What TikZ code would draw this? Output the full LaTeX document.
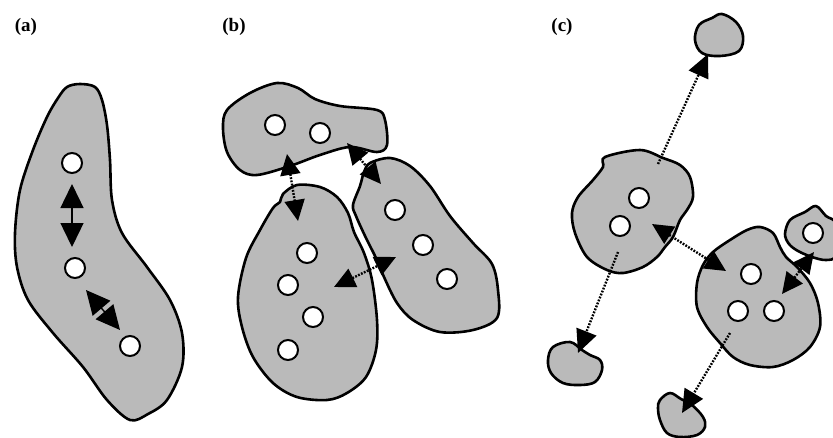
\documentclass[tikz,border=0pt]{standalone}
\usepackage{fontspec}
\setmainfont{Liberation Serif}
\usetikzlibrary{arrows.meta}
\tikzset{
  blob/.style={draw=black, fill=black!27, line width=2.6pt, line join=round},
  dot/.style={circle, draw=black, fill=white, line width=2pt, minimum size=20pt, inner sep=0pt},
  solidlink/.style={line width=1.4pt, {Triangle[length=24pt,width=23pt]}-{Triangle[length=24pt,width=23pt]}},
  dottedlink/.style={line width=2.4pt, dash pattern=on 1.8pt off 1.4pt},
  bothheads/.style={{Triangle[length=21pt,width=20pt]}-{Triangle[length=21pt,width=20pt]}},
  onehead/.style={-{Triangle[length=23pt,width=21pt]}},
  panellabel/.style={font=\bfseries\fontsize{19}{21}\selectfont, inner sep=0pt}
}
\begin{document}
\begin{tikzpicture}[x=1pt,y=-1pt]
\useasboundingbox (0,0) rectangle (833,437);
\fill[white] (0,0) rectangle (833,437);

% ---------- panel labels ----------
\node[panellabel] (la) at (26,27) {(a)};
\node[panellabel] (lb) at (234,27) {(b)};
\node[panellabel] (lc) at (562,27) {(c)};

% ---------- (a): one elongated cluster ----------
\draw[blob] plot[smooth cycle, tension=0.55] coordinates {
 (67,87) (80,84) (95,87) (102,100) (107,125) (110,160) (112,200) (122,233)
 (147,267) (170,300) (182,333) (182,367) (167,400) (148,414) (130,420)
 (107,400) (83,367) (53,333) (28,300) (17,267) (15,233) (20,190) (33,150)
 (47,117) (58,98)};
\node[dot] (a1) at (72,163) {};
\node[dot] (a2) at (75,268) {};
\node[dot] (a3) at (130,346) {};
\coordinate (a12t) at (72,184);
\coordinate (a12b) at (72,247);
\coordinate (a23t) at (86,290);
\coordinate (a23b) at (120,330);
\draw[solidlink] (a12t) -- (a12b);
\draw[solidlink] (a23t) -- (a23b);

% ---------- (b): three neighbouring clusters ----------
\draw[blob] plot[smooth cycle, tension=0.55] coordinates {
 (227,110) (250,93) (277,83) (298,88) (315,99) (340,106) (377,110) (385,120)
 (387,145) (377,152) (350,147) (320,155) (290,166) (257,175) (240,170)
 (227,152) (223,128)};
\node[dot] (b1) at (275,125) {};
\node[dot] (b2) at (320,133) {};

\draw[blob] plot[smooth cycle, tension=0.55] coordinates {
 (283,194) (297,185) (320,187) (337,197) (348,213) (354,232) (364,253)
 (372,280) (377,320) (376,350) (366,377) (347,393) (327,400) (297,397)
 (273,383) (253,357) (242,327) (238,297) (246,258) (260,230) (273,208)
 (280,202)};
\node[dot] (b3) at (307,253) {};
\node[dot] (b4) at (288,285) {};
\node[dot] (b5) at (313,317) {};
\node[dot] (b6) at (288,350) {};

\draw[blob] plot[smooth cycle, tension=0.55] coordinates {
 (370,163) (390,158) (410,166) (430,186) (450,216) (473,243) (492,264)
 (498,290) (497,318) (473,330) (440,332) (413,320) (397,303) (384,277)
 (376,258) (366,238) (356,216) (353,205) (360,186) (364,172)};
\node[dot] (b7) at (395,210) {};
\node[dot] (b8) at (423,245) {};
\node[dot] (b9) at (447,279) {};

\coordinate (bv1) at (287,154);
\coordinate (bv2) at (298,221);
\coordinate (bd1) at (347,143);
\coordinate (bd2) at (381,184);
\coordinate (bh1) at (334,287);
\coordinate (bh2) at (396,257);
\draw[dottedlink, bothheads] (bv1) -- (bv2);
\draw[dottedlink, bothheads] (bd1) -- (bd2);
\draw[dottedlink, bothheads] (bh1) -- (bh2);

% ---------- (c): clusters drifting apart ----------
% small cluster, top
\draw[blob] plot[smooth cycle, tension=0.6] coordinates {
 (722,14) (736,22) (743,36) (739,51) (720,56) (702,53) (695,40) (699,25) (712,18)};
% middle-left cluster
\draw[blob] plot[smooth cycle, tension=0.55] coordinates {
 (605,157) (640,150) (663,158) (680,165) (690,177) (693,197) (687,210)
 (680,220) (673,237) (665,247) (657,257) (643,267) (623,273) (607,270)
 (587,257) (575,233) (572,213) (578,197) (593,180) (603,167)};
\node[dot] (c1) at (639,198) {};
\node[dot] (c2) at (620,226) {};
% big cluster, right
\draw[blob] plot[smooth cycle, tension=0.55] coordinates {
 (697,283) (703,265) (713,252) (730,240) (747,230) (760,227) (773,233)
 (780,247) (786,257) (797,267) (810,283) (818,303) (820,327) (810,347)
 (793,360) (773,367) (750,365) (733,357) (720,343) (707,327) (697,307)};
\node[dot] (c3) at (751,274) {};
\node[dot] (c4) at (738,311) {};
\node[dot] (c5) at (774,311) {};
% small cluster, far right
\draw[blob] plot[smooth cycle, tension=0.55] coordinates {
 (785,234) (790,220) (805,212) (816,206) (826,216) (836,224) (836,255)
 (826,260) (812,257) (798,251) (789,244)};
\node[dot] (c6) at (813,233) {};
% small cluster, lower left
\draw[blob] plot[smooth cycle, tension=0.6] coordinates {
 (553,347) (570,342) (582,350) (590,355) (600,360) (602,370) (595,382)
 (580,385) (563,383) (551,373) (548,360)};
% small cluster, bottom
\draw[blob] plot[smooth cycle, tension=0.6] coordinates {
 (660,400) (670,393) (681,399) (692,405) (703,417) (705,427) (697,435)
 (680,437) (667,433) (660,420) (658,408)};

\coordinate (cs1) at (658,164);
\coordinate (ce1) at (708,54);
\coordinate (cs2) at (618,252);
\coordinate (ce2) at (578,353);
\coordinate (cs3) at (730,333);
\coordinate (ce3) at (682,413);
\coordinate (cm1) at (652,224);
\coordinate (cm2) at (726,271);
\coordinate (cr1) at (782,294);
\coordinate (cr2) at (814,252);
\draw[dottedlink, onehead] (cs1) -- (ce1);
\draw[dottedlink, onehead] (cs2) -- (ce2);
\draw[dottedlink, onehead] (cs3) -- (ce3);
\draw[dottedlink, bothheads] (cm1) -- (cm2);
\draw[dottedlink, bothheads] (cr1) -- (cr2);
\end{tikzpicture}
\end{document}
